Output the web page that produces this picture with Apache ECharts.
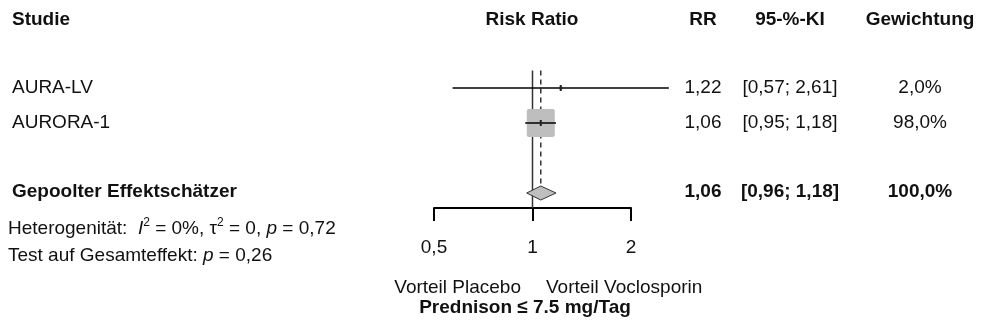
<!DOCTYPE html>
<html><head><meta charset="utf-8">
<script src="https://cdn.jsdelivr.net/npm/echarts@6/dist/echarts.min.js"></script>
<style>html,body{margin:0;padding:0;background:#fff}#c{width:983px;height:329px}</style>
</head><body><div id="c"></div>
<script>
// ---- data ----
const studies = ['AURA-LV', 'AURORA-1'];
const rr = [1.22, 1.06];
const ciLower = [0.57, 0.95];
const ciUpper = [2.61, 1.18];
const weights = [2.0, 98.0];
const studyRows = [1, 2];
const pooledLabel = ['Gepoolter Effektschätzer'];
const pooledRR = [1.06];
const pooledLower = [0.96];
const pooledUpper = [1.18];
const pooledWeight = [100.0];
const pooledRows = [4];
const xTicks = [0.5, 1, 2];
const xTickLabels = ['0,5', '1', '2'];
const headers = ['Studie', 'Risk Ratio', 'RR', '95-%-KI', 'Gewichtung'];
const heterogeneity = ['0%', '0', '0,72'];   // I², tau², p
const overallP = ['0,26'];
const sideLabels = ['Vorteil Placebo', 'Vorteil Voclosporin'];
const subtitle = ['Prednison ≤ 7.5 mg/Tag'];

// ---- layout / style ----
const FONT = '"Liberation Sans", Arial, sans-serif';
const FS = 19;
const TXT = '#111';
const GREY = '#bebebe';
const colRR = 703, colCI = 790, colW = 920, colStudy = 12;
const fmt2 = v => v.toFixed(2).replace('.', ',');
const fmtW = v => v.toFixed(1).replace('.', ',') + '%';
const maxW = Math.max(...weights);
const MAXBOX = 28;

const chart = echarts.init(document.getElementById('c'), null, {renderer: 'canvas'});

function txt(x, y, text, align, bold, extra) {
  return Object.assign({
    type: 'text', x: x, y: y,
    style: {text: text, fill: TXT, fontSize: FS, fontFamily: FONT,
            fontWeight: bold ? 'bold' : 'normal', align: align, verticalAlign: 'middle'}
  }, extra || {});
}

const studyData = studies.map((s, i) => [rr[i], ciLower[i], ciUpper[i], weights[i], studyRows[i], i]);
const pooledData = pooledRR.map((v, i) => [v, pooledLower[i], pooledUpper[i], pooledWeight[i], pooledRows[i], i]);

const option = {
  animation: false,
  backgroundColor: '#fff',
  grid: {left: 434, width: 197, top: 53, height: 155},
  xAxis: {
    type: 'log', logBase: 2, min: 0.5, max: 2,
    axisLine: {onZero: false, lineStyle: {color: '#000', width: 2}},
    axisTick: {show: true, inside: false, length: 13, lineStyle: {color: '#000', width: 2}},
    minorTick: {show: false},
    splitLine: {show: false},
    axisLabel: {
      margin: 30, color: TXT, fontSize: FS, fontFamily: FONT,
      formatter: v => { const i = xTicks.findIndex(t => Math.abs(t - v) < 1e-6); return i >= 0 ? xTickLabels[i] : ''; }
    }
  },
  yAxis: {type: 'value', inverse: true, min: 0, max: 155 / 35, show: false},
  series: [
    { // reference lines (line of no effect, pooled dashed line)
      type: 'custom', clip: false, z: 1,
      data: pooledData,
      renderItem: (params, api) => {
        const row = api.value(4);
        const top1 = api.coord([1, 0.5]);
        const bot1 = api.coord([1, 155 / 35]);
        const topP = api.coord([api.value(0), 0.5]);
        const botP = api.coord([api.value(0), row - 0.2]);
        return {type: 'group', children: [
          {type: 'line', shape: {x1: topP[0], y1: topP[1], x2: botP[0], y2: botP[1]},
           style: {stroke: '#333', lineWidth: 1.5, lineDash: [5, 4]}},
          {type: 'line', shape: {x1: top1[0], y1: top1[1], x2: bot1[0], y2: bot1[1]},
           style: {stroke: '#333', lineWidth: 1.5}}
        ]};
      }
    },
    { // study boxes + CIs
      type: 'custom', clip: false, z: 3,
      encode: {x: [0, 1, 2], y: 4},
      data: studyData,
      renderItem: (params, api) => {
        const row = api.value(4);
        const c = api.coord([api.value(0), row]);
        const lo = api.coord([api.value(1), row]);
        const hi = api.coord([api.value(2), row]);
        const side = MAXBOX * Math.sqrt(api.value(3) / maxW);
        return {type: 'group', children: [
          {type: 'rect', shape: {x: c[0] - side / 2, y: c[1] - side / 2, width: side, height: side, r: 2},
           style: {fill: GREY}},
          {type: 'line', shape: {x1: lo[0], y1: c[1], x2: hi[0], y2: c[1]},
           style: {stroke: '#000', lineWidth: 1.5}},
          {type: 'line', shape: {x1: c[0], y1: c[1] - 3, x2: c[0], y2: c[1] + 3},
           style: {stroke: '#222', lineWidth: 2}}
        ]};
      }
    },
    { // pooled diamond
      type: 'custom', clip: false, z: 3,
      encode: {x: [0, 1, 2], y: 4},
      data: pooledData,
      renderItem: (params, api) => {
        const row = api.value(4);
        const c = api.coord([api.value(0), row]);
        const lo = api.coord([api.value(1), row]);
        const hi = api.coord([api.value(2), row]);
        const h = 7;
        return {type: 'polygon',
          shape: {points: [[lo[0], c[1]], [c[0], c[1] - h], [hi[0], c[1]], [c[0], c[1] + h]]},
          style: {fill: GREY, stroke: '#333', lineWidth: 1}};
      }
    },
    { // study table text
      type: 'custom', clip: false, z: 4,
      encode: {x: 0, y: 4},
      data: studyData,
      renderItem: (params, api) => {
        const i = api.value(5);
        const y = api.coord([1, api.value(4)])[1];
        return {type: 'group', children: [
          txt(colStudy, y, studies[i], 'left', false),
          txt(colRR, y, fmt2(rr[i]), 'center', false),
          txt(colCI, y, '[' + fmt2(ciLower[i]) + '; ' + fmt2(ciUpper[i]) + ']', 'center', false),
          txt(colW, y, fmtW(weights[i]), 'center', false)
        ]};
      }
    },
    { // pooled table text
      type: 'custom', clip: false, z: 4,
      encode: {x: 0, y: 4},
      data: pooledData,
      renderItem: (params, api) => {
        const i = api.value(5);
        const y = api.coord([1, api.value(4)])[1] - 1;
        return {type: 'group', children: [
          txt(colStudy, y, pooledLabel[i], 'left', true),
          txt(colRR, y, fmt2(pooledRR[i]), 'center', true),
          txt(colCI, y, '[' + fmt2(pooledLower[i]) + '; ' + fmt2(pooledUpper[i]) + ']', 'center', true),
          txt(colW, y, fmtW(pooledWeight[i]), 'center', true)
        ]};
      }
    }
  ],
  graphic: [
    txt(colStudy, 20, headers[0], 'left', true),
    txt(532, 20, headers[1], 'center', true),
    txt(colRR, 20, headers[2], 'center', true),
    txt(colCI, 20, headers[3], 'center', true),
    txt(colW, 20, headers[4], 'center', true),
    {
      type: 'text', x: 8, y: 229,
      style: {
        text: 'Heterogenität:  {i|I}{s|2} = ' + heterogeneity[0] + ', τ{s|2} = ' + heterogeneity[1] + ', {i|p} = ' + heterogeneity[2],
        fill: TXT, fontSize: FS, fontFamily: FONT, align: 'left', verticalAlign: 'middle', lineHeight: 24,
        rich: {
          i: {fontStyle: 'italic', fontSize: FS, fontFamily: FONT, fill: TXT, lineHeight: 24},
          s: {fontSize: 12, fontFamily: FONT, fill: TXT, verticalAlign: 'top', lineHeight: 12}
        }
      }
    },
    {
      type: 'text', x: 8, y: 256,
      style: {
        text: 'Test auf Gesamteffekt: {i|p} = ' + overallP[0],
        fill: TXT, fontSize: FS, fontFamily: FONT, align: 'left', verticalAlign: 'middle',
        rich: {i: {fontStyle: 'italic', fontSize: FS, fontFamily: FONT, fill: TXT}}
      }
    },
    txt(521, 288, sideLabels[0], 'right', false),
    txt(546, 288, sideLabels[1], 'left', false),
    txt(525, 308, subtitle[0], 'center', true)
  ]
};
chart.setOption(option);
</script>
</body></html>
